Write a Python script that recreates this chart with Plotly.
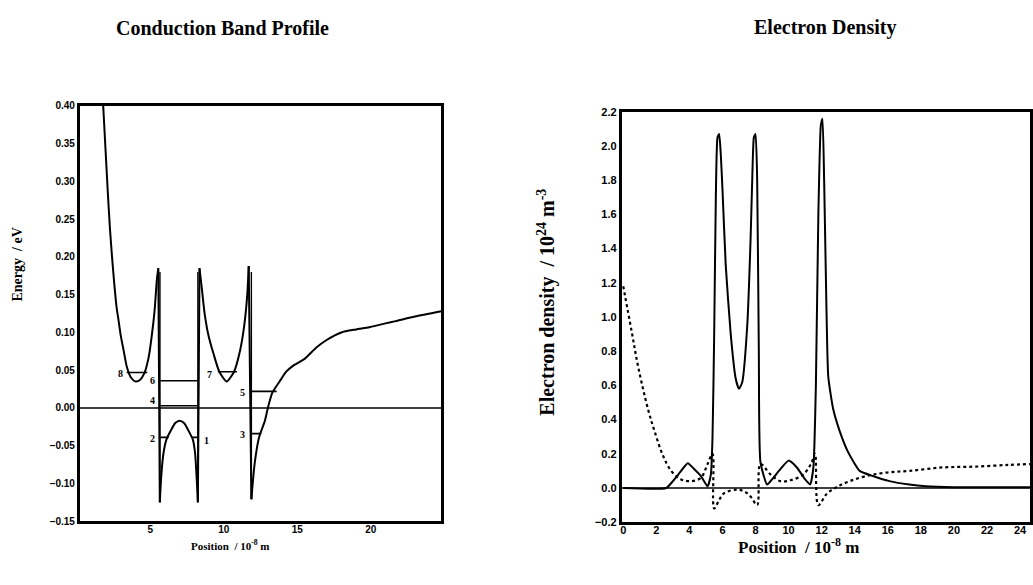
import plotly.graph_objects as go

W, H = 1033, 585

# ---------------- Conduction band profile (left) ----------------
band_x = [1.8, 1.95, 2.1, 2.25, 2.4, 2.55, 2.7, 2.85, 3.0, 3.2, 3.4, 3.7, 4.0, 4.3, 4.6, 4.9, 5.1, 5.3, 5.45, 5.55,
          5.65, 5.75, 5.9, 6.1, 6.4, 6.7, 7.0, 7.3, 7.6, 7.9, 8.05, 8.15, 8.24,
          8.35, 8.5, 8.7, 8.95, 9.3, 9.7, 10.2, 10.7, 11.1, 11.4, 11.6, 11.7,
          11.88, 12.1, 12.4, 12.8, 13.0, 13.3, 13.8, 14.25, 14.8, 15.5, 16.3, 17.0, 18.0, 19.0,
          19.9, 21.0, 21.7, 23.0, 24.8]
band_y = [0.40, 0.345, 0.29, 0.24, 0.20, 0.165, 0.135, 0.115, 0.095, 0.075, 0.055, 0.04, 0.035, 0.037, 0.046, 0.068, 0.095, 0.13, 0.17, 0.185,
          -0.125, -0.09, -0.06, -0.042, -0.03, -0.02, -0.017, -0.02, -0.03, -0.042, -0.06, -0.09, -0.125,
          0.185, 0.16, 0.125, 0.097, 0.072, 0.048, 0.035, 0.048, 0.075, 0.11, 0.15, 0.188,
          -0.121, -0.074, -0.039, -0.017, 0.0, 0.02, 0.035, 0.048, 0.057, 0.065, 0.08, 0.09, 0.10, 0.104,
          0.107, 0.112, 0.115, 0.121, 0.128]

level_names = ["1", "2", "3", "4", "5", "6", "7", "8"]
level_x0 = [7.85, 5.68, 11.9, 5.68, 11.9, 5.68, 9.6, 3.4]
level_x1 = [8.24, 6.25, 12.55, 8.24, 13.6, 8.24, 10.9, 4.8]
level_e = [-0.039, -0.039, -0.034, 0.003, 0.022, 0.036, 0.048, 0.047]
label_x = [8.85, 5.14, 11.28, 5.14, 11.28, 5.14, 9.05, 2.97]
label_y = [-0.043, -0.040, -0.035, 0.010, 0.021, 0.036, 0.044, 0.046]

# ---------------- Electron density (right) ----------------
dens_x = [0, 2.6, 3.0, 3.5, 3.9, 4.3, 4.7, 5.1, 5.3, 5.4, 5.5, 5.6, 5.7, 5.8, 5.9, 6.0, 6.2, 6.5, 6.8, 7.0,
          7.2, 7.5, 7.7, 7.8, 7.9, 8.0, 8.1, 8.2, 8.3, 8.7, 9.0, 9.5, 10.0, 10.5, 11.0, 11.3, 11.5, 11.65,
          11.8, 11.95, 12.05, 12.15, 12.3, 12.4, 12.7, 13.1, 13.6, 14.3, 15.1, 16.1, 17.3, 18.3, 20.0, 24.6]
dens_y = [0, 0, 0.04, 0.10, 0.145, 0.11, 0.07, 0.01, 0.08, 0.3, 0.9, 1.7, 2.05, 2.07, 1.95, 1.75, 1.3, 0.9, 0.64, 0.58,
          0.62, 0.95, 1.45, 1.8, 2.05, 2.07, 1.8, 0.8, 0.15, 0.02, 0.05, 0.11, 0.16, 0.12, 0.05, 0.02, 0.12, 0.6,
          1.6, 2.12, 2.16, 1.8, 1.0, 0.65, 0.46, 0.33, 0.21, 0.10, 0.07, 0.04, 0.02, 0.01, 0.005, 0.005]

dot_x = [0.0, 0.5, 0.9, 1.5, 1.9, 2.4, 2.9, 3.5, 4.1, 4.7, 5.1, 5.4, 5.5, 5.8, 6.1, 6.9, 7.4, 7.7, 8.1,
         8.3, 8.9, 9.5, 10.1, 10.9, 11.4, 11.6, 11.8, 12.3, 12.9, 13.7, 14.7, 15.9, 17.3, 19.3, 21.3, 23.3, 24.6]
dot_y = [1.18, 0.92, 0.71, 0.46, 0.33, 0.19, 0.10, 0.05, 0.04, 0.06, 0.14, 0.20, -0.12, -0.07, -0.03, -0.01, -0.025, -0.05, -0.10,
         0.14, 0.08, 0.04, 0.045, 0.08, 0.15, 0.20, -0.10, -0.035, 0.005, 0.04, 0.07, 0.09, 0.10, 0.12, 0.125, 0.135, 0.14]

left_yticks = [0.40, 0.35, 0.30, 0.25, 0.20, 0.15, 0.10, 0.05, 0.00, -0.05, -0.10, -0.15]
left_xticks = [5, 10, 15, 20]
right_yticks = [2.2, 2.0, 1.8, 1.6, 1.4, 1.2, 1.0, 0.8, 0.6, 0.4, 0.2, 0.0, -0.2]
right_xticks = [0, 2, 4, 6, 8, 10, 12, 14, 16, 18, 20, 22, 24]


def split_at_jumps(xs, ys, jump):
    """Split a polyline into smooth pieces where the value jumps abruptly."""
    pieces, cx, cy = [], [xs[0]], [ys[0]]
    for i in range(1, len(xs)):
        if abs(ys[i] - ys[i - 1]) > jump:
            pieces.append((cx, cy))
            cx, cy = [], []
        cx.append(xs[i])
        cy.append(ys[i])
    pieces.append((cx, cy))
    return pieces


fig = go.Figure()

# left: band (smooth pieces + the abrupt walls)
pieces = split_at_jumps(band_x, band_y, 0.2)
for px_, py_ in pieces:
    fig.add_trace(go.Scatter(x=px_, y=py_, mode="lines", line=dict(color="black", width=2, shape="spline", smoothing=0.6),
                             xaxis="x", yaxis="y", showlegend=False))
for k in range(len(pieces) - 1):
    a, b = pieces[k], pieces[k + 1]
    fig.add_trace(go.Scatter(x=[a[0][-1], b[0][0]], y=[a[1][-1], b[1][0]], mode="lines",
                             line=dict(color="black", width=2), xaxis="x", yaxis="y", showlegend=False))
fig.add_trace(go.Scatter(x=[0.2, 24.8], y=[0, 0], mode="lines", line=dict(color="black", width=1.6),
                         xaxis="x", yaxis="y", showlegend=False))
for i in range(len(level_names)):
    fig.add_trace(go.Scatter(x=[level_x0[i], level_x1[i]], y=[level_e[i], level_e[i]], mode="lines",
                             line=dict(color="black", width=1.6), xaxis="x", yaxis="y", showlegend=False))
fig.add_trace(go.Scatter(x=[5.66, 5.66, None, 8.24, 8.24, None, 11.88, 11.88],
                         y=[0.18, -0.125, None, 0.18, -0.125, None, 0.18, -0.12],
                         mode="lines", line=dict(color="black", width=1.4), xaxis="x", yaxis="y", showlegend=False))

# right: density
fig.add_trace(go.Scatter(x=[-0.1, 24.6], y=[0, 0], mode="lines", line=dict(color="black", width=1.6),
                         xaxis="x2", yaxis="y2", showlegend=False))
fig.add_trace(go.Scatter(x=dot_x, y=dot_y, mode="lines", line=dict(color="black", width=2.2, dash="dot"),
                         line_shape="spline", xaxis="x2", yaxis="y2", showlegend=False))
fig.add_trace(go.Scatter(x=dens_x, y=dens_y, mode="lines",
                         line=dict(color="black", width=2, shape="spline", smoothing=0.5),
                         xaxis="x2", yaxis="y2", showlegend=False))

tickfont = dict(family="Liberation Sans", size=10, color="black", weight="bold")
tickfont2 = dict(family="Liberation Sans", size=11, color="black", weight="bold")
serif = "Liberation Serif"

fig.update_layout(
    width=W, height=H, margin=dict(l=0, r=0, t=0, b=0),
    paper_bgcolor="white", plot_bgcolor="white",
    xaxis=dict(domain=[79 / W, 442 / W], range=[0.2, 24.8], tickvals=left_xticks,
               ticks="", showgrid=False, zeroline=False, showline=True, linecolor="black",
               linewidth=2.5, mirror=True, tickfont=tickfont, anchor="y", ticklabelstandoff=-3),
    yaxis=dict(domain=[1 - 526 / H, 1 - 102 / H], range=[-0.15, 0.40], tickvals=left_yticks,
               tickformat=".2f", ticks="", showgrid=False, zeroline=False, showline=True,
               linecolor="black", linewidth=2.5, mirror=True, tickfont=tickfont, anchor="x"),
    xaxis2=dict(domain=[623 / W, 1.0], range=[-0.1, 24.6], tickvals=right_xticks,
                ticks="", showgrid=False, zeroline=False, showline=True, linecolor="black",
                linewidth=2.5, mirror=True, tickfont=tickfont2, anchor="y2", ticklabelstandoff=-4,
                ticklabeloverflow="allow"),
    yaxis2=dict(domain=[1 - 527 / H, 1 - 108 / H], range=[-0.2, 2.2], tickvals=right_yticks,
                tickformat=".1f", ticks="", showgrid=False, zeroline=False, showline=True,
                linecolor="black", linewidth=2.5, mirror=True, tickfont=tickfont2, anchor="x2"),
)

ann = []
for i in range(len(level_names)):
    ann.append(dict(x=label_x[i], y=label_y[i], xref="x", yref="y", text="<b>%s</b>" % level_names[i],
                    showarrow=False, font=dict(family=serif, size=10, color="black")))


def paper(px, py):
    return px / W, 1 - py / H


for text, px, py, size, angle in [
    ("<b>Conduction Band Profile</b>", 222, 22, 20, 0),
    ("<b>Electron Density</b>", 827, 22, 20, 0),
    ("<b>Position  / 10<sup>-8</sup> m</b>", 230, 550, 11, 0),
    ("<b>Position  / 10<sup>-8</sup> m</b>", 801, 551, 17, 0),
    ("<b>Energy  / eV</b>", 17, 264, 14, -90),
    ("<b>Electron density  / 10<sup>24</sup> m<sup>-3</sup></b>", 548, 302, 20, -90),
]:
    x, y = paper(px, py)
    ann.append(dict(x=x, y=y, xref="paper", yref="paper", text=text, showarrow=False, textangle=angle,
                    xanchor="center", yanchor="middle", font=dict(family=serif, size=size, color="black")))

fig.update_layout(annotations=ann)
fig.write_html("out.html", config={"displayModeBar": False},
               post_script="document.body.style.margin='0';document.body.style.overflow='hidden';")
